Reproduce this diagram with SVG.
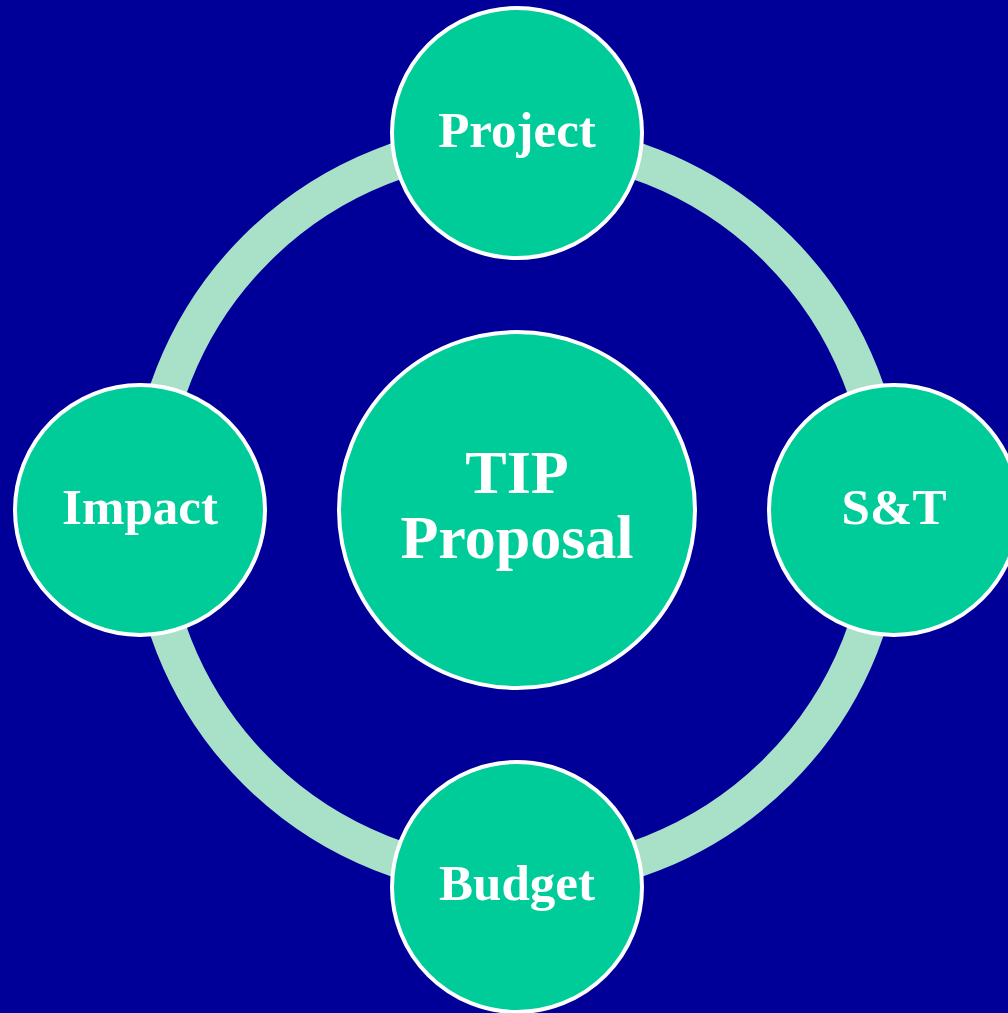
<svg xmlns="http://www.w3.org/2000/svg" width="1008" height="1013" viewBox="0 0 1008 1013">
<style>
.node{fill:#00cc99;stroke:#ffffff;stroke-width:4}
.lbl{fill:#ffffff;font-family:"Liberation Serif","Times New Roman",serif;font-weight:bold;text-anchor:middle}
.ring{fill:none;stroke:#a8e0c8;stroke-width:37}
</style>
<rect x="0" y="0" width="1008" height="1013" fill="#000099"/>
<g id="connectors">
<circle class="ring" cx="517" cy="510" r="369"/>
</g>
<g id="node-center">
<circle class="node" cx="517" cy="510" r="178"/>
<text class="lbl" x="517" y="493" font-size="62">TIP</text>
<text class="lbl" x="517" y="558" font-size="62">Proposal</text>
</g>
<g id="node-project">
<circle class="node" cx="517" cy="133" r="125"/>
<text class="lbl" x="517" y="147" font-size="51">Project</text>
</g>
<g id="node-st">
<circle class="node" cx="894" cy="510" r="125"/>
<text class="lbl" x="894" y="524" font-size="51">S&amp;T</text>
</g>
<g id="node-budget">
<circle class="node" cx="517" cy="887" r="125"/>
<text class="lbl" x="517" y="900" font-size="51">Budget</text>
</g>
<g id="node-impact">
<circle class="node" cx="140" cy="510" r="125"/>
<text class="lbl" x="140" y="524" font-size="51">Impact</text>
</g>
</svg>
